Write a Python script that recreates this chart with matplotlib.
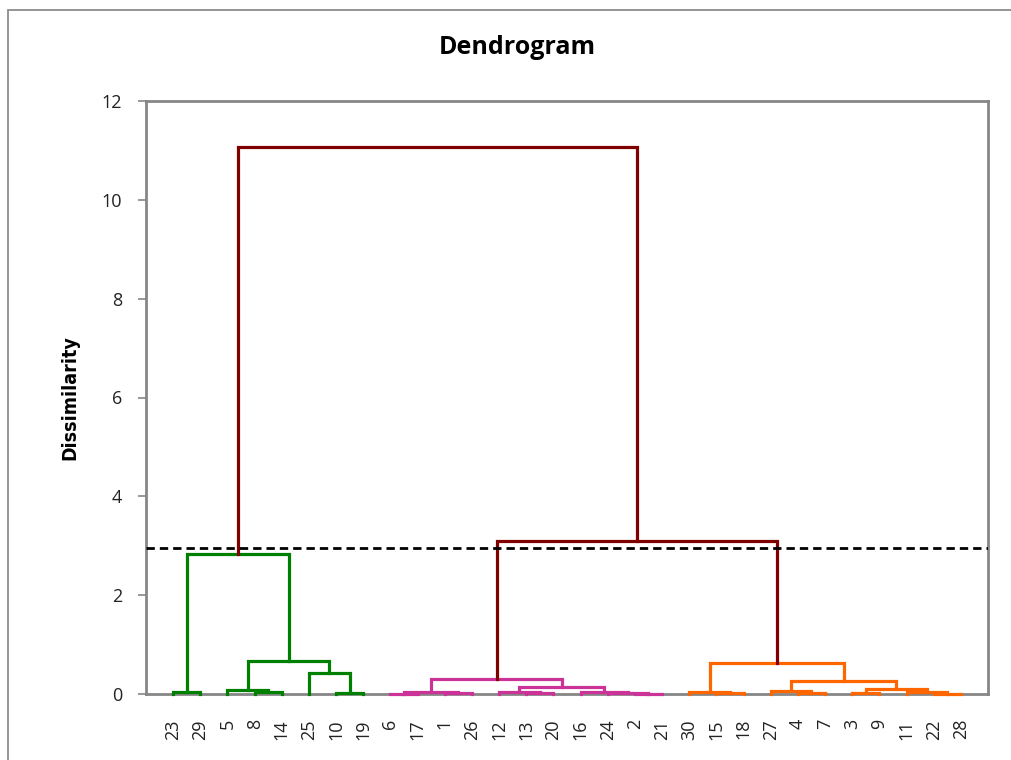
import matplotlib
matplotlib.use('Agg')
import matplotlib.pyplot as plt
from matplotlib.patches import Rectangle

plt.rcParams['font.family'] = ['Open Sans', 'DejaVu Sans']

# leaf order along the x axis
leaves = [23, 29, 5, 8, 14, 25, 10, 19, 6, 17, 1, 26, 12, 13, 20, 16, 24, 2, 21,
          30, 15, 18, 27, 4, 7, 3, 9, 11, 22, 28]

# merges: (node name, left child, right child, dissimilarity)
merges = [
    ('g1', 23, 29, 0.035),
    ('g2', 8, 14, 0.04),
    ('g3', 5, 'g2', 0.09),
    ('g4', 10, 19, 0.02),
    ('g5', 25, 'g4', 0.43),
    ('g6', 'g3', 'g5', 0.67),
    ('gR', 'g1', 'g6', 2.83),
    ('p1', 6, 17, 0.01),
    ('p2', 1, 26, 0.02),
    ('p3', 'p1', 'p2', 0.035),
    ('p4', 13, 20, 0.02),
    ('p5', 12, 'p4', 0.04),
    ('p6', 2, 21, 0.005),
    ('p7', 24, 'p6', 0.02),
    ('p8', 16, 'p7', 0.04),
    ('p9', 'p5', 'p8', 0.14),
    ('pR', 'p3', 'p9', 0.30),
    ('o1', 15, 18, 0.02),
    ('o2', 30, 'o1', 0.04),
    ('o3', 4, 7, 0.03),
    ('o4', 27, 'o3', 0.06),
    ('o5', 3, 9, 0.02),
    ('o6', 22, 28, 0.01),
    ('o7', 11, 'o6', 0.04),
    ('o8', 'o5', 'o7', 0.11),
    ('o9', 'o4', 'o8', 0.27),
    ('oR', 'o2', 'o9', 0.63),
    ('r1', 'pR', 'oR', 3.10),
    ('r0', 'gR', 'r1', 11.07),
]

cut_level = 2.96

colors = {'g': '#008000', 'p': '#CC3399', 'o': '#FF6600', 'r': '#800000'}

fig = plt.figure(figsize=(10.12, 7.6), dpi=100)
ax = fig.add_axes([146 / 1012, 1 - 694 / 760, 842 / 1012, 593 / 760])

# positions / heights of every node
xpos = {lab: i for i, lab in enumerate(leaves)}
ypos = {lab: 0.0 for lab in leaves}

for name, a, b, h in merges:
    c = colors[name[0]]
    xa, xb = xpos[a], xpos[b]
    ax.plot([xa, xa, xb, xb], [ypos[a], h, h, ypos[b]], color=c, lw=2.3,
            solid_joinstyle='miter', clip_on=False, zorder=3)
    xpos[name] = (xa + xb) / 2
    ypos[name] = h

ax.axhline(cut_level, color='black', lw=2, linestyle=(0, (3, 1.8)), zorder=4)

ax.set_xlim(-1, 30)
ax.set_ylim(0, 12)
ax.set_yticks(range(0, 13, 2))
ax.set_xticks(range(len(leaves)))
ax.set_xticklabels([str(l) for l in leaves], rotation=90, fontsize=13,
                   color='#222222')
ax.tick_params(axis='x', length=0, pad=18)
ax.tick_params(axis='y', length=6, width=1.2, color='#868686', labelsize=13,
               labelcolor='#222222', pad=11)

for sp in ax.spines.values():
    sp.set_color('#868686')
    sp.set_linewidth(2)
    sp.set_zorder(2)

ax.set_ylabel('Dissimilarity', fontsize=14, fontweight='bold',
              family='DejaVu Sans', fontstretch='condensed', labelpad=16)
fig.text(517 / 1012, 1 - 48 / 760, 'Dendrogram', ha='center', va='center',
         fontsize=18, fontweight='bold')

# outer chart border
fig.add_artist(Rectangle((8 / 1012, -0.1), 1.2, 1.1 - 10 / 760,
                         transform=fig.transFigure, fill=False,
                         edgecolor='#8c8c8c', lw=1.3))

fig.savefig('out.png', dpi=100)
